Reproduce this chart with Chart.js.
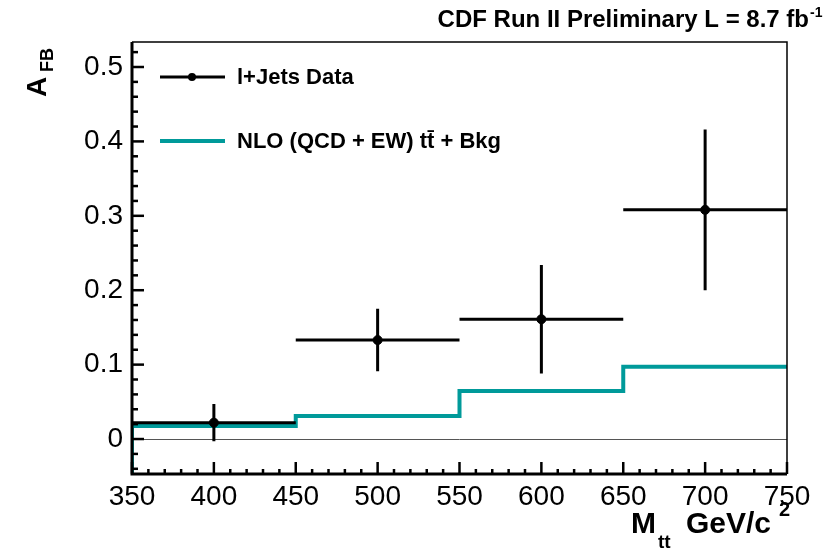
<!DOCTYPE html>
<html>
<head>
<meta charset="utf-8">
<script src="https://cdn.jsdelivr.net/npm/chart.js@4.4.1/dist/chart.umd.min.js"></script>
<style>
  html,body{margin:0;padding:0;background:#fff;}
  #wrap{width:833px;height:552px;}
</style>
</head>
<body>
<div id="wrap"><canvas id="chart" width="833" height="552"></canvas></div>
<script>
// bins of M_tt (GeV/c^2)
const binLow    = [350, 450, 550, 650];
const binHigh   = [450, 550, 650, 750];
const binCenter = [400, 500, 600, 700];
// l+jets data: A_FB and its error
const dataAfb = [0.022, 0.133, 0.161, 0.308];
const dataErr = [0.025, 0.042, 0.073, 0.108];
// NLO (QCD + EW) ttbar + Bkg prediction per bin
const nloAfb  = [0.0175, 0.031, 0.0645, 0.097];
// axes
const xTicks = [350, 400, 450, 500, 550, 600, 650, 700, 750];
const yTicks = [0, 0.1, 0.2, 0.3, 0.4, 0.5];
const xMin = 350, xMax = 750;
const yMin = -0.047, yMax = 0.5336;

const FONT = "'Liberation Sans', Arial, Helvetica, sans-serif";
const TEAL = '#009a9a';

// horizontal bars (bin widths) with gaps between them
const hBars = [];
binLow.forEach((lo, i) => {
  hBars.push({x: lo, y: dataAfb[i]}, {x: binHigh[i], y: dataAfb[i]}, {x: binHigh[i], y: null});
});
// vertical error bars
const vBars = [];
binCenter.forEach((c, i) => {
  vBars.push({x: c, y: dataAfb[i] - dataErr[i]}, {x: c, y: dataAfb[i] + dataErr[i]}, {x: c, y: null});
});
// step histogram, starting at bottom of the frame like ROOT does
const steps = [{x: binLow[0], y: yMin}];
binLow.forEach((lo, i) => steps.push({x: lo, y: nloAfb[i]}));
steps.push({x: binHigh[binHigh.length - 1], y: nloAfb[nloAfb.length - 1]});

// frame, inner ticks, legend and titles
const decor = {
  id: 'decor',
  afterDraw(chart){
    const ctx = chart.ctx, a = chart.chartArea;
    const xs = chart.scales.x, ys = chart.scales.y;
    ctx.save();
    ctx.strokeStyle = '#000';
    // y ticks every 0.02, major every 0.1
    ctx.lineWidth = 2.5;
    for(let k = -2; k <= 26; k++){
      const py = ys.getPixelForValue(k * 0.02);
      if(py < a.top || py > a.bottom) continue;
      const len = (k % 5 === 0) ? 12 : 6;
      ctx.beginPath(); ctx.moveTo(a.left, py); ctx.lineTo(a.left + len, py); ctx.stroke();
    }
    // x ticks every 10, major every 50
    for(let v = xMin; v <= xMax; v += 10){
      const px = xs.getPixelForValue(v);
      const len = (v % 50 === 0) ? 12 : 5;
      ctx.beginPath(); ctx.moveTo(px, a.bottom); ctx.lineTo(px, a.bottom - len); ctx.stroke();
    }
    // frame
    ctx.lineWidth = 1.5;
    ctx.beginPath(); ctx.moveTo(a.left, a.top); ctx.lineTo(a.right, a.top); ctx.lineTo(a.right, a.bottom); ctx.stroke();
    ctx.lineWidth = 3;
    ctx.beginPath(); ctx.moveTo(a.left, a.top); ctx.lineTo(a.left, a.bottom); ctx.lineTo(a.right, a.bottom); ctx.stroke();

    // legend
    ctx.lineWidth = 3;
    ctx.beginPath(); ctx.moveTo(160, 77); ctx.lineTo(225, 77); ctx.stroke();
    ctx.fillStyle = '#000';
    ctx.beginPath(); ctx.arc(192, 77, 4, 0, Math.PI * 2); ctx.fill();
    ctx.strokeStyle = TEAL; ctx.lineWidth = 4;
    ctx.beginPath(); ctx.moveTo(160, 141); ctx.lineTo(225, 141); ctx.stroke();
    ctx.font = 'bold 22px ' + FONT;
    ctx.textBaseline = 'middle'; ctx.textAlign = 'left';
    ctx.fillText('l+Jets Data', 237, 78);
    ctx.fillText('NLO (QCD + EW) t\u0074\u0304 + Bkg', 237, 142);

    // top label
    ctx.textBaseline = 'alphabetic';
    ctx.font = 'bold 24px ' + FONT;
    ctx.textAlign = 'right';
    ctx.fillText('CDF Run II Preliminary L = 8.7 fb', 809, 27);
    ctx.font = 'bold 14px ' + FONT;
    ctx.textAlign = 'left';
    ctx.fillText('-1', 810, 17);

    // x title
    ctx.font = 'bold 30px ' + FONT;
    ctx.fillText('M', 631, 533);
    ctx.font = 'bold 19px ' + FONT;
    ctx.fillText('tt', 658, 548);
    ctx.font = 'bold 30px ' + FONT;
    ctx.fillText('GeV/c', 686, 533);
    ctx.font = 'bold 20px ' + FONT;
    ctx.fillText('2', 779, 516);

    // y title
    ctx.translate(46, 97);
    ctx.rotate(-Math.PI / 2);
    ctx.font = 'bold 28px ' + FONT;
    ctx.fillText('A', 0, 0);
    ctx.font = 'bold 18px ' + FONT;
    ctx.fillText('FB', 25, 7);
    ctx.restore();
  }
};

new Chart(document.getElementById('chart'), {
  type: 'line',
  data: {
    datasets: [
      {label: 'NLO (QCD + EW) tt + Bkg', data: steps, stepped: 'before', borderColor: TEAL, borderWidth: 4, pointRadius: 0, fill: false, order: 2},
      {label: 'l+Jets Data bins', data: hBars, borderColor: '#000', borderWidth: 3, pointRadius: 0, spanGaps: false, order: 1},
      {label: 'l+Jets Data errors', data: vBars, borderColor: '#000', borderWidth: 3, pointRadius: 0, spanGaps: false, order: 1},
      {label: 'l+Jets Data', type: 'scatter', data: binCenter.map((c, i) => ({x: c, y: dataAfb[i]})),
       backgroundColor: '#000', borderColor: '#000', pointRadius: 4.5, order: 0}
    ]
  },
  options: {
    responsive: false,
    animation: false,
    devicePixelRatio: 1,
    layout: {padding: {top: 42, right: 46, left: 0, bottom: 0}},
    plugins: {legend: {display: false}, tooltip: {enabled: false}},
    scales: {
      x: {
        type: 'linear', min: xMin, max: xMax,
        afterBuildTicks: s => { s.ticks = xTicks.map(v => ({value: v})); },
        afterFit: s => { s.height = 78; },
        grid: {display: false, drawTicks: false},
        border: {display: false},
        ticks: {color: '#000', font: {family: FONT, size: 28}, padding: 6, maxRotation: 0}
      },
      y: {
        type: 'linear', min: yMin, max: yMax,
        afterBuildTicks: s => { s.ticks = yTicks.map(v => ({value: v})); },
        afterFit: s => { s.width = 132; },
        grid: {drawTicks: false, lineWidth: 1, color: c => (c.tick && c.tick.value === 0) ? '#555' : 'rgba(0,0,0,0)'},
        border: {display: false},
        ticks: {color: '#000', font: {family: FONT, size: 28}, padding: 9,
                callback: v => String(Math.round(v * 10) / 10)}
      }
    }
  },
  plugins: [decor]
});
</script>
</body>
</html>
